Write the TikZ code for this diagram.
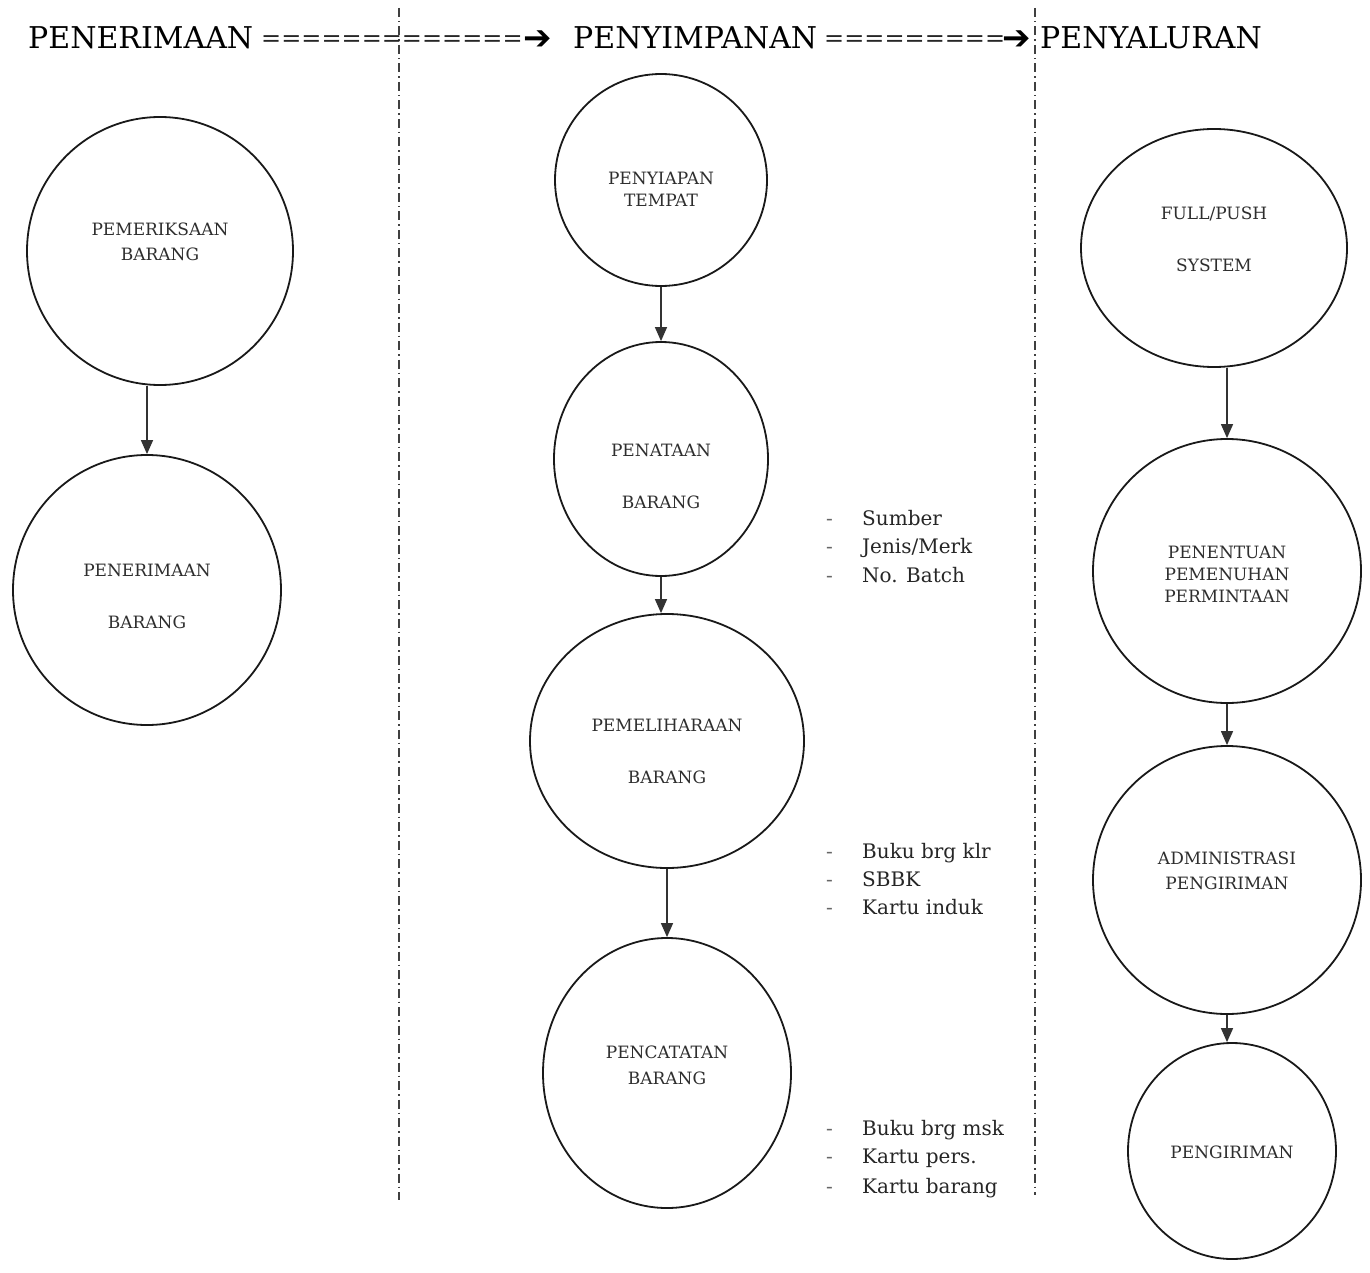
\documentclass[tikz,border=0pt]{standalone}
\usepackage{fontspec}
\setmainfont{DejaVu Serif}
\newfontfamily\arrowfont{DejaVu Sans}
\usetikzlibrary{shapes.geometric,arrows.meta}
\begin{document}
\begin{tikzpicture}[x=1pt,y=-1pt,
  proc/.style={ellipse, draw=black!90, line width=1.8pt, inner sep=0pt},
  lab/.style={font=\fontsize{17}{23}\selectfont, text=black!82, align=center, inner sep=0pt},
  head/.style={font=\fontsize{30}{34}\selectfont, anchor=base west, inner sep=0pt},
  eqs/.style={font=\fontsize{24}{28}\selectfont, anchor=base west, inner sep=0pt, text=black!85},
  harrow/.style={font=\arrowfont\fontsize{34}{38}\selectfont, anchor=base west, inner sep=0pt},
  item/.style={font=\fontsize{20}{24}\selectfont, anchor=base west, inner sep=0pt, text=black!85},
  itemdash/.style={font=\fontsize{20}{24}\selectfont, anchor=base west, inner sep=0pt, text=black!60},
  conn/.style={-{Triangle[width=12pt,length=14pt]}, line width=1.4pt, draw=black!80},
  sepline/.style={line width=1.5pt, dash pattern=on 9pt off 4pt on 1.5pt off 4pt, draw=black!75}]
\useasboundingbox[fill=white] (0,0) rectangle (1370,1273);

% separators
\coordinate (s1a) at (399,8);
\coordinate (s1b) at (399,1200);
\coordinate (s2a) at (1035,8);
\coordinate (s2b) at (1035,1195);
\draw[sepline] (s1a) -- (s1b);
\draw[sepline] (s2a) -- (s2b);

% header
\node[head] (h1) at (28,49) {PENERIMAAN};
\node[eqs] (e1) at (261,47) {=============};
\node[harrow] (a1) at (523,50) {➔};
\node[head] (h2) at (573,49) {PENYIMPANAN};
\node[eqs] (e2) at (824,47) {=========};
\node[harrow] (a2) at (1002,50) {➔};
\node[head] (h3) at (1040,49) {PENYALURAN};

% left column
\node[proc, minimum width=266pt, minimum height=268pt] (pem) at (160,251) {};
\node[lab] (pemL) at (160,241.5) {PEMERIKSAAN\\[2pt]BARANG};
\node[proc, minimum width=268pt, minimum height=270pt] (pnr) at (147,590) {};
\node[lab] (pnrL) at (147,596) {PENERIMAAN\\[29pt]BARANG};

% middle column
\node[proc, minimum width=212pt, minimum height=212pt] (siap) at (661,180) {};
\node[lab] (siapL) at (661,189) {PENYIAPAN\\[-1pt]TEMPAT};
\node[proc, minimum width=214pt, minimum height=234pt] (tata) at (661,459) {};
\node[lab] (tataL) at (661,476) {PENATAAN\\[29pt]BARANG};
\node[proc, minimum width=274pt, minimum height=254pt] (pel) at (667,741) {};
\node[lab] (pelL) at (667,751) {PEMELIHARAAN\\[29pt]BARANG};
\node[proc, minimum width=248pt, minimum height=270pt] (cat) at (667,1073) {};
\node[lab] (catL) at (667,1065) {PENCATATAN\\[3pt]BARANG};

% right column
\node[proc, minimum width=266pt, minimum height=238pt] (full) at (1214,248) {};
\node[lab] (fullL) at (1214,239) {FULL/PUSH\\[29pt]SYSTEM};
\node[proc, minimum width=268pt, minimum height=264pt] (tentu) at (1227,571) {};
\node[lab] (tentuL) at (1227,574) {PENENTUAN\\[-1pt]PEMENUHAN\\[-1pt]PERMINTAAN};
\node[proc, minimum width=268pt, minimum height=268pt] (adm) at (1227,880) {};
\node[lab] (admL) at (1227,870.5) {ADMINISTRASI\\[2pt]PENGIRIMAN};
\node[proc, minimum width=208pt, minimum height=216pt] (kirim) at (1232,1151) {};
\node[lab] (kirimL) at (1232,1152) {PENGIRIMAN};

% connectors
\draw[conn] (pem.south -| pnr.north) -- (pnr.north);
\draw[conn] (siap.south) -- (siap.south |- tata.north);
\draw[conn] (tata.south) -- (tata.south |- pel.north);
\draw[conn] (pel.south) -- (pel.south |- cat.north);
\draw[conn] (full.south -| tentu.north) -- (tentu.north);
\draw[conn] (tentu.south) -- (tentu.south |- adm.north);
\draw[conn] (adm.south) -- (adm.south |- kirim.north);

% lists
\node[itemdash] (d1) at (826,525) {-};
\node[item] (t1) at (862,525) {Sumber};
\node[itemdash] (d2) at (826,553) {-};
\node[item] (t2) at (862,553) {Jenis/Merk};
\node[itemdash] (d3) at (826,582) {-};
\node[item] (t3) at (862,582) {No. Batch};

\node[itemdash] (d4) at (826,858) {-};
\node[item] (t4) at (862,858) {Buku brg klr};
\node[itemdash] (d5) at (826,886) {-};
\node[item] (t5) at (862,886) {SBBK};
\node[itemdash] (d6) at (826,914) {-};
\node[item] (t6) at (862,914) {Kartu induk};

\node[itemdash] (d7) at (826,1135) {-};
\node[item] (t7) at (862,1135) {Buku brg msk};
\node[itemdash] (d8) at (826,1163) {-};
\node[item] (t8) at (862,1163) {Kartu pers.};
\node[itemdash] (d9) at (826,1193) {-};
\node[item] (t9) at (862,1193) {Kartu barang};
\end{tikzpicture}
\end{document}
